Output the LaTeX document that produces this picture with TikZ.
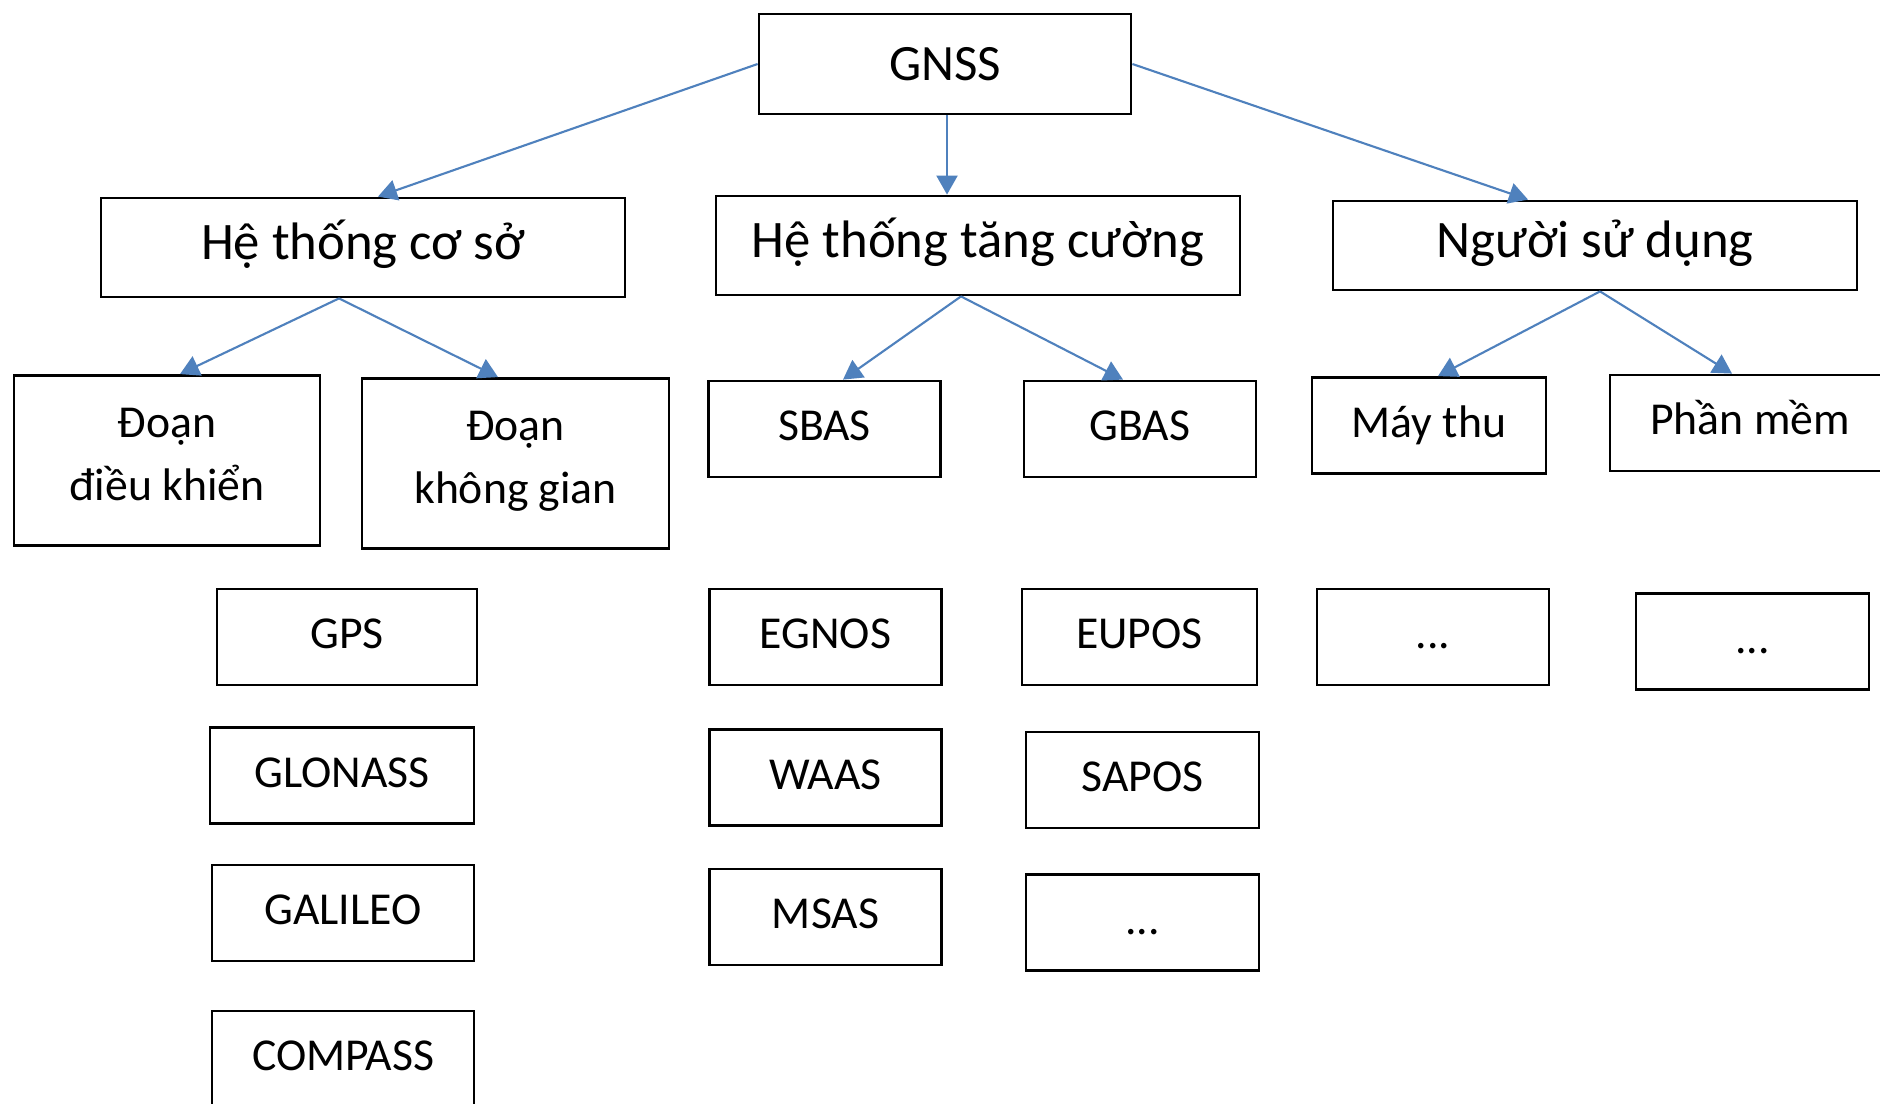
\documentclass[tikz,border=0pt]{standalone}
\usepackage{fontspec}
\setmainfont{Carlito}
\usetikzlibrary{arrows.meta}
\definecolor{arrowblue}{RGB}{79,129,189}
\tikzstyle{topnode} = [rectangle, thick,
minimum width=3.72cm, 
minimum height=1cm,
font=\fontsize{14.5}{17}\selectfont,
draw=black]
\tikzstyle{groupnode} = [rectangle, thick,
minimum width=5.24cm, 
minimum height=0.99cm,
text height=0.8em, text depth=0.12em,
font=\fontsize{15}{18}\selectfont,
draw=black]
\tikzstyle{segnode} = [rectangle, thick,
minimum width=3.06cm, 
minimum height=1.7cm,
align=center,
text depth=0.12cm,
font=\fontsize{13}{18}\selectfont,
draw=black]
\tikzstyle{partnode} = [rectangle, thick,
minimum width=2.32cm, 
minimum height=0.96cm,
text height=0.8em, text depth=0.12em,
font=\fontsize{13}{16}\selectfont,
draw=black]
\tikzstyle{arrow} = [line width=0.6pt, draw=arrowblue, -{Triangle[length=1.9mm,width=2.1mm]}]

\begin{document}
\begin{tikzpicture}
\useasboundingbox [fill=white] (0,0) rectangle (18.8,-11.03);

\node (gnss) [topnode] at (9.45,-0.64) {GNSS};

\node (base) [groupnode] at (3.63,-2.475) {Hệ thống cơ sở};
\node (aug) [groupnode] at (9.78,-2.455) {Hệ thống tăng cường};
\node (user) [groupnode, minimum height=0.89cm] at (15.95,-2.455) {Người sử dụng};

\node (ctrl) [segnode] at (1.67,-4.605) {Đoạn\\ điều khiển};
\node (space) [segnode, minimum width=3.07cm] at (5.155,-4.635) {Đoạn\\ không gian};
\node (sbas) [partnode] at (8.245,-4.29) {SBAS};
\node (gbas) [partnode] at (11.40,-4.29) {GBAS};
\node (rx) [partnode, minimum width=2.34cm] at (14.29,-4.255) {Máy thu};
\node (sw) [partnode, minimum width=2.8cm] at (17.50,-4.23) {Phần mềm};

% he thong co so
\node (gps) [partnode, minimum width=2.6cm] at (3.47,-6.37) {GPS};
\node (glonass) [partnode, minimum width=2.64cm] at (3.42,-7.755) {GLONASS};
\node (galileo) [partnode, minimum width=2.62cm] at (3.43,-9.13) {GALILEO};
\node (compass) [partnode, minimum width=2.62cm] at (3.43,-10.59) {COMPASS};

% tang cuong
\node (egnos) [partnode] at (8.255,-6.37) {EGNOS};
\node (waas) [partnode] at (8.255,-7.775) {WAAS};
\node (msas) [partnode] at (8.255,-9.17) {MSAS};
\node (eupos) [partnode, minimum width=2.35cm] at (11.395,-6.37) {EUPOS};
\node (sapos) [partnode, minimum width=2.33cm] at (11.425,-7.80) {SAPOS};
\node (gbasmore) [partnode, minimum width=2.33cm] at (11.425,-9.225) {...};

% nguoi su dung
\node (rxmore) [partnode] at (14.33,-6.37) {...};
\node (swmore) [partnode, minimum width=2.33cm] at (17.525,-6.415) {...};

\draw [arrow] (gnss.west) -- ([xshift=0.15cm]base.north);
\draw [arrow] ([xshift=0.02cm]gnss.south) -- ([xshift=0.02cm]gnss.south |- aug.north);
\draw [arrow] (gnss.east) -- ([xshift=-0.67cm]user.north);

\draw [arrow] ([xshift=-0.24cm]base.south) -- ([xshift=0.13cm]ctrl.north);
\draw [arrow] ([xshift=-0.24cm]base.south) -- ([xshift=-0.175cm]space.north);

\draw [arrow] ([xshift=-0.17cm]aug.south) -- ([xshift=0.185cm]sbas.north);
\draw [arrow] ([xshift=-0.17cm]aug.south) -- ([xshift=-0.17cm]gbas.north);

\draw [arrow] ([xshift=0.05cm]user.south) -- ([xshift=0.09cm]rx.north);
\draw [arrow] ([xshift=0.05cm]user.south) -- ([xshift=-0.18cm]sw.north);

\end{tikzpicture}
\end{document}
